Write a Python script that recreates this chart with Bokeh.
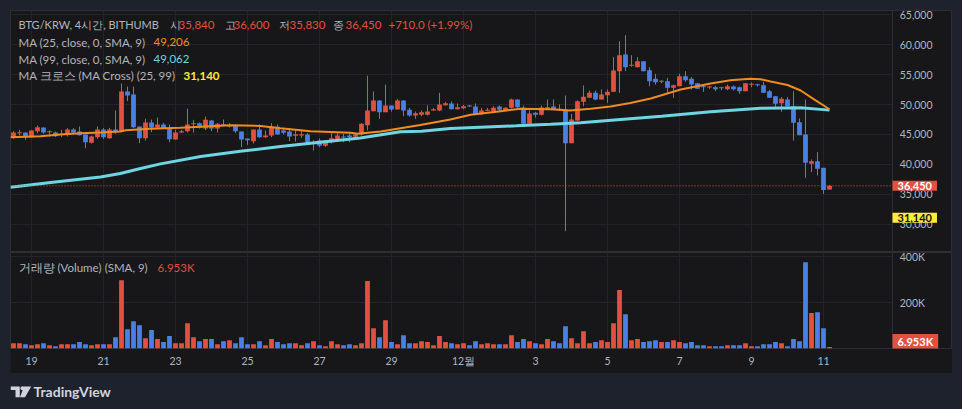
import numpy as np
import pandas as pd
from bokeh.plotting import figure
from bokeh.models import ColumnDataSource, Range1d, FixedTicker, Label, Span
from bokeh.layouts import column
from bokeh.embed import file_html
from bokeh.resources import INLINE
from bokeh.core.properties import value

# ---------------- data (4h candles, BTG/KRW, Bithumb) ----------------
opens = [44560,45200,45330,44560,45560,46170,45390,45330,44950,44950,
 45830,45500,45000,43610,44560,45830,44390,45830,45500,52170,
 51670,46330,44390,47000,46170,46670,46060,44170,45330,45560,
 46720,46890,46000,47330,46000,46720,46390,46440,45500,44330,
 43890,45830,44560,44830,46280,45670,45500,44780,44830,45000,
 43440,44000,43110,43720,44170,44610,44830,44610,45000,46560,
 48890,50670,48720,49830,49170,50670,49110,48170,48280,48280,
 49000,49000,49890,50170,49220,49390,49720,49670,48390,48940,
 48890,49670,49000,49440,50830,49440,46780,48610,48280,49330,
 49670,49280,49110,43560,47330,50440,51110,51940,50830,51560,
 52110,55560,58330,56440,56220,57220,55720,54280,53780,53890,
 52780,53060,54720,54280,53560,52960,52830,52890,52780,52560,
 53000,52890,52220,53280,53280,53220,52220,51390,50220,50830,
 49720,47060,45000,40110,40560,39440,35840]
highs = [45560,45780,45330,45700,46500,46170,45670,45500,45780,46060,
 46060,46330,45000,44800,46330,46060,46110,49000,53500,53000,
 53000,46330,47610,47500,47830,46950,46670,45780,45780,49330,
 47440,47000,48000,47440,46890,47500,46890,46670,45500,44330,
 45830,46670,45670,46890,46670,46110,46060,45670,45670,45220,
 44060,44330,44060,45220,45220,45110,45220,45110,46890,54800,
 52170,50670,53330,49830,50940,50670,49440,48830,49000,49830,
 49440,51940,50440,50500,50170,49940,49890,50170,49440,49440,
 49720,49830,49560,51000,50830,49830,49000,48720,49830,50830,
 50830,50000,51500,48440,50670,53170,52330,52330,52500,52500,
 57890,60560,61560,58220,57890,57220,56220,55110,54060,54440,
 53330,55110,55560,54560,53560,53330,53110,53110,52940,53330,
 53170,53000,53560,53670,53440,53780,52440,51390,51220,51220,
 52220,47670,50830,40830,42060,39440,36600]
lows = [44280,44830,44110,44500,45220,45110,44670,44600,44560,44670,
 45110,44830,42720,43500,44280,44280,44280,45110,45390,50560,
 46110,43560,44000,45390,45950,46000,43720,44170,45220,45330,
 45330,46000,45720,45560,45330,46390,46170,45220,42890,43280,
 43500,44440,44440,44560,45000,45000,43890,43830,44440,43440,
 42330,42890,42940,43500,43720,43720,43720,44500,44830,45670,
 48890,47610,48720,48830,49170,48060,48000,47610,48060,48170,
 48940,48890,49830,49220,49170,49220,49610,48390,48280,48890,
 48830,48890,48890,49330,49440,46780,46780,47830,48170,49220,
 49110,49000,28890,43560,47220,49720,51110,50720,50830,50280,
 52110,51940,55560,56280,56220,55560,53060,53330,53560,51940,
 51110,53060,53780,52500,52610,52110,52610,52220,52390,52390,
 52330,51780,52220,52890,53000,51940,51110,49330,48780,49720,
 44000,44890,37780,38720,38170,35100,35830]
closes = [45330,45250,44560,45670,46220,45330,45450,44720,45100,45830,
 45330,44890,43720,44670,45830,44560,45830,45440,52170,51500,
 46220,44390,47000,46170,46670,46060,44220,45330,45560,46670,
 46780,46110,47440,46000,46780,46440,46560,45560,44170,44060,
 45830,44560,44830,46280,45000,45280,44670,45060,45060,43440,
 43500,43110,44000,44390,44830,44500,44560,45000,46780,49000,
 50670,48720,49830,49170,50670,49000,48170,48560,48720,48830,
 49220,50000,50220,49220,49560,49720,49670,48390,49000,49000,
 49440,49110,49440,50830,49560,46780,48500,48280,49500,49560,
 49110,49110,43560,47500,50560,51280,51940,50830,51670,52110,
 55670,58220,56220,56500,57220,55560,53890,53720,53890,52780,
 53220,54720,54060,53330,52610,52890,52940,52560,52720,53060,
 52560,52220,53560,53330,53220,51940,51110,50110,50940,49720,
 46940,44890,40280,40560,39280,35740,36450]
volume_k = [23,23,19,14,19,23,14,10,19,19,
 19,28,19,14,19,19,19,49,297,84,
 119,101,45,80,41,28,54,23,23,110,
 49,32,41,41,19,32,36,23,49,19,
 19,32,14,41,28,19,23,23,14,23,
 32,14,10,32,19,14,19,14,23,293,
 88,49,123,28,19,58,23,23,32,28,
 14,54,28,23,19,23,14,32,19,23,
 19,19,19,58,28,41,32,23,19,41,
 32,23,97,45,23,75,23,28,36,28,
 110,254,149,36,41,28,32,36,28,28,
 36,28,23,28,14,14,10,10,10,14,
 14,14,23,10,10,19,19,28,23,10,
 41,32,375,154,158,88,6.953]

# moving averages (candle index, value)
ma25_idx = [-0.5, 4.5, 7.8, 11.2, 14.5, 17.8, 18.7, 22.8, 27.8, 31.2, 36.2, 41.2, 44.5, 49.5,
            56.2, 57.3, 61.2, 64.5, 67.8, 72.8, 76.2, 81.2, 84.5, 89.5, 92.8, 96.2, 99.5,
            102.8, 106.2, 111.2, 116.2, 119.5, 122.8, 124.5, 126.2, 129.0, 131.2, 133.3, 136.0]
ma25_val = [44560, 44720, 45000, 45220, 45330, 45500, 45720, 45940, 46110, 46280, 46560, 46420, 46060, 45560,
            45280, 45110, 45500, 46060, 46600, 47500, 48280, 48890, 49280, 49220, 49000, 49280, 49670,
            50250, 51000, 52500, 53500, 54050, 54280, 54220, 53830, 53250, 52330, 50940, 49206]
ma99_idx = [-0.5, 6.2, 14.5, 17.8, 21.0, 24.5, 31.2, 37.8, 44.5, 49.5, 57.8, 64.5, 68.0, 72.8,
            83.8, 89.5, 94.5, 101.2, 108.0, 116.2, 124.5, 131.2, 136.0]
ma99_val = [36220, 37000, 37900, 38500, 39300, 40100, 41330, 42200, 43000, 43560, 44400, 45450, 45550, 46000,
            46440, 46700, 46940, 47500, 48060, 48800, 49390, 49440, 49062]
ma_cross_value = 31140

date_tick_idx = [3, 15, 27, 39, 51, 63, 75, 87, 99, 111, 123, 135]
date_tick_labels = ["19", "21", "23", "25", "27", "29", "12월", "3", "5", "7", "9", "11"]
price_ticks = [30000, 35000, 40000, 45000, 50000, 55000, 60000, 65000]
price_tick_labels = [f"{t:,}" for t in price_ticks]
volume_ticks = [200000, 400000]
volume_tick_labels = ["200K", "400K"]
symbol_text = "BTG/KRW, 4시간, BITHUMB"

# ---------------- styles / layout constants ----------------
BG = "#17171a"
OUTER = "#1e222d"
GRID = "#242428"
BORDER = "#2e2e34"
TEXT = "#b2b5be"
RED = "#e2503f"
BLUE = "#4a7fe6"
ORANGE = "#f08c1e"
CYAN = "#6ed5e2"
YELLOW = "#ffeb3b"
FONT = "Lato"
ONE_PX = 170
X_START, X_END = -0.5, 156.5     # whole panel width in candle slots
AXIS_AT = 146.5                  # where the price scale panel begins
LABEL_AT = 147.7                 # tick-label column in the scale panel

df = pd.DataFrame(dict(o=opens, h=highs, l=lows, c=closes))
df["x"] = np.arange(len(df))
df["color"] = np.where(df.c >= df.o, RED, BLUE)
df["bot"] = np.minimum(df.o, df.c)
df["top"] = np.maximum(np.maximum(df.o, df.c), df["bot"] + ONE_PX)
df["vol"] = np.array(volume_k) * 1000.0
src = ColumnDataSource(df)

xr = Range1d(X_START, X_END)


def style_fig(f):
    f.background_fill_color = BG
    f.border_fill_color = BG
    f.outline_line_color = BORDER
    f.xgrid.ticker = FixedTicker(ticks=date_tick_idx)
    f.xgrid.grid_line_color = GRID
    f.ygrid.visible = False
    f.add_layout(Span(location=AXIS_AT, dimension="height", line_color=BORDER, line_width=1))


def pad(lbl, l, r, t, b):
    try:
        lbl.padding = dict(left=l, right=r, top=t, bottom=b)
    except Exception:
        lbl.padding = 2


def txt(fig, x, y, s, color, size="11.5px", bold=False):
    lb = Label(x=x, y=y, x_units="screen", y_units="screen", text=s, text_color=color,
               text_font=FONT, text_font_size=size, text_baseline="middle", text_align="left",
               text_font_style="bold" if bold else "normal")
    fig.add_layout(lb)
    return lb


def tag(fig, y, s, fill, color, y_units="data"):
    lb = Label(x=AXIS_AT, y=y, x_units="data", y_units=y_units, x_offset=0, text=s,
               text_color=color, text_font=FONT, text_font_size="11px", text_font_style="bold",
               text_baseline="middle", text_align="left", background_fill_color=fill)
    pad(lb, 5, 5, 1, 1)
    fig.add_layout(lb)


# ---------------- price pane ----------------
pp = figure(frame_width=942, frame_height=242, x_range=xr, y_range=Range1d(25333, 65667),
            x_axis_location=None, y_axis_location=None, output_backend="svg",
            toolbar_location=None, min_border=0)
style_fig(pp)
pp.segment(x0=X_START, x1=AXIS_AT, y0=price_ticks, y1=price_ticks, line_color=GRID, line_width=1)
pp.text(x=LABEL_AT, y=price_ticks, text=price_tick_labels, text_color=TEXT,
        text_font=value(FONT), text_font_size="10.5px", text_baseline="middle", text_align="left")

pp.segment(x0="x", y0="l", x1="x", y1="h", color="color", line_width=1, source=src)
pp.vbar(x="x", width=0.8, top="top", bottom="bot", fill_color="color", line_color=None, source=src)
pp.line(ma99_idx, ma99_val, line_color=CYAN, line_width=3)
pp.line(ma25_idx, ma25_val, line_color=ORANGE, line_width=2)
pp.segment(x0=X_START, x1=AXIS_AT, y0=closes[-1], y1=closes[-1], line_color=RED,
           line_width=1, line_dash="1 2")

chg = closes[-1] - closes[-2]
pct = chg / closes[-2] * 100
KO = "10.5px"
txt(pp, 8, 228, symbol_text, TEXT, size="11px")
txt(pp, 159, 228, "시", TEXT, size=KO)
txt(pp, 168, 228, f"{opens[-1]:,}", RED)
txt(pp, 214, 228, "고", TEXT, size=KO)
txt(pp, 223, 228, f"{highs[-1]:,}", RED)
txt(pp, 268.5, 228, "저", TEXT, size=KO)
txt(pp, 279, 228, f"{lows[-1]:,}", RED)
txt(pp, 322.5, 228, "종", TEXT, size=KO)
txt(pp, 335, 228, f"{closes[-1]:,}", RED)
txt(pp, 378, 228, f"+{chg:.1f} (+{pct:.2f}%)", RED)
txt(pp, 8, 210.5, "MA (25, close, 0, SMA, 9)", TEXT)
txt(pp, 143, 210.5, f"{ma25_val[-1]:,}", ORANGE)
txt(pp, 8, 193.5, "MA (99, close, 0, SMA, 9)", TEXT)
txt(pp, 143, 193.5, f"{ma99_val[-1]:,}", CYAN)
txt(pp, 8, 177, "MA 크로스 (MA Cross) (25, 99)", TEXT)
txt(pp, 173, 177, f"{ma_cross_value:,}", YELLOW, bold=True)

tag(pp, closes[-1], f"{closes[-1]:,}", RED, "white")
tag(pp, ma_cross_value, f"{ma_cross_value:,}", YELLOW, "#111111")

# ---------------- volume pane ----------------
pv = figure(frame_width=942, frame_height=96, x_range=xr, y_range=Range1d(0, 417400),
            x_axis_location="below", y_axis_location=None, output_backend="svg",
            toolbar_location=None, min_border_left=0, min_border_top=0,
            min_border_bottom=25, min_border_right=0)
style_fig(pv)
pv.segment(x0=X_START, x1=AXIS_AT, y0=volume_ticks, y1=volume_ticks, line_color=GRID, line_width=1)
pv.text(x=LABEL_AT, y=volume_ticks, text=volume_tick_labels, text_color=TEXT,
        text_font=value(FONT), text_font_size="10.5px", text_baseline="middle", text_align="left")
vx = pv.xaxis[0]
vx.ticker = FixedTicker(ticks=date_tick_idx)
vx.major_label_overrides = {t: s for t, s in zip(date_tick_idx, date_tick_labels)}
vx.axis_line_color = None
vx.major_tick_line_color = None
vx.minor_tick_line_color = None
vx.major_tick_out = 0
vx.major_tick_in = 0
vx.major_label_standoff = 6
vx.major_label_text_color = TEXT
vx.major_label_text_font = FONT
vx.major_label_text_font_size = "10.5px"

pv.vbar(x="x", width=0.8, top="vol", bottom=0, fill_color="color", line_color=None, source=src)
txt(pv, 8, 81.3, "거래량 (Volume) (SMA, 9)", TEXT)
txt(pv, 147, 81.3, f"{volume_k[-1]:.3f}K", RED)
tag(pv, 7, f"{volume_k[-1]:.3f}K", RED, "white", y_units="screen")

# ---------------- footer with logo ----------------
pl = figure(width=942, height=28, x_range=Range1d(0, 942), y_range=Range1d(0, 28),
            x_axis_location=None, y_axis_location=None, output_backend="svg",
            toolbar_location=None, min_border=0)
pl.background_fill_color = OUTER
pl.border_fill_color = OUTER
pl.outline_line_color = None
pl.grid.visible = False
pl.patches(xs=[[0, 9.3, 9.3, 5, 5, 0], [13.5, 20.7, 14.5, 9.5]],
           ys=[[15, 15, 4.3, 4.3, 11.5, 11.5], [15, 15, 4.3, 4.3]],
           fill_color="#d1d4dc", line_color=None)
pl.scatter([12], [13.3], size=4, fill_color="#d1d4dc", line_color=None)
lt = Label(x=23, y=10, x_units="screen", y_units="screen", text="TradingView", text_color="#d1d4dc",
           text_font=FONT, text_font_size="14px", text_font_style="bold",
           text_baseline="middle", text_align="left")
pl.add_layout(lt)

layout = column(pp, pv, pl, margin=(2, 0, 0, 2))
html = file_html(layout, INLINE)
html = html.replace("</head>", "<style>body{background:#1e222d;padding:8px 0 0 8px !important;}</style></head>", 1)
open("out.html", "w").write(html)
